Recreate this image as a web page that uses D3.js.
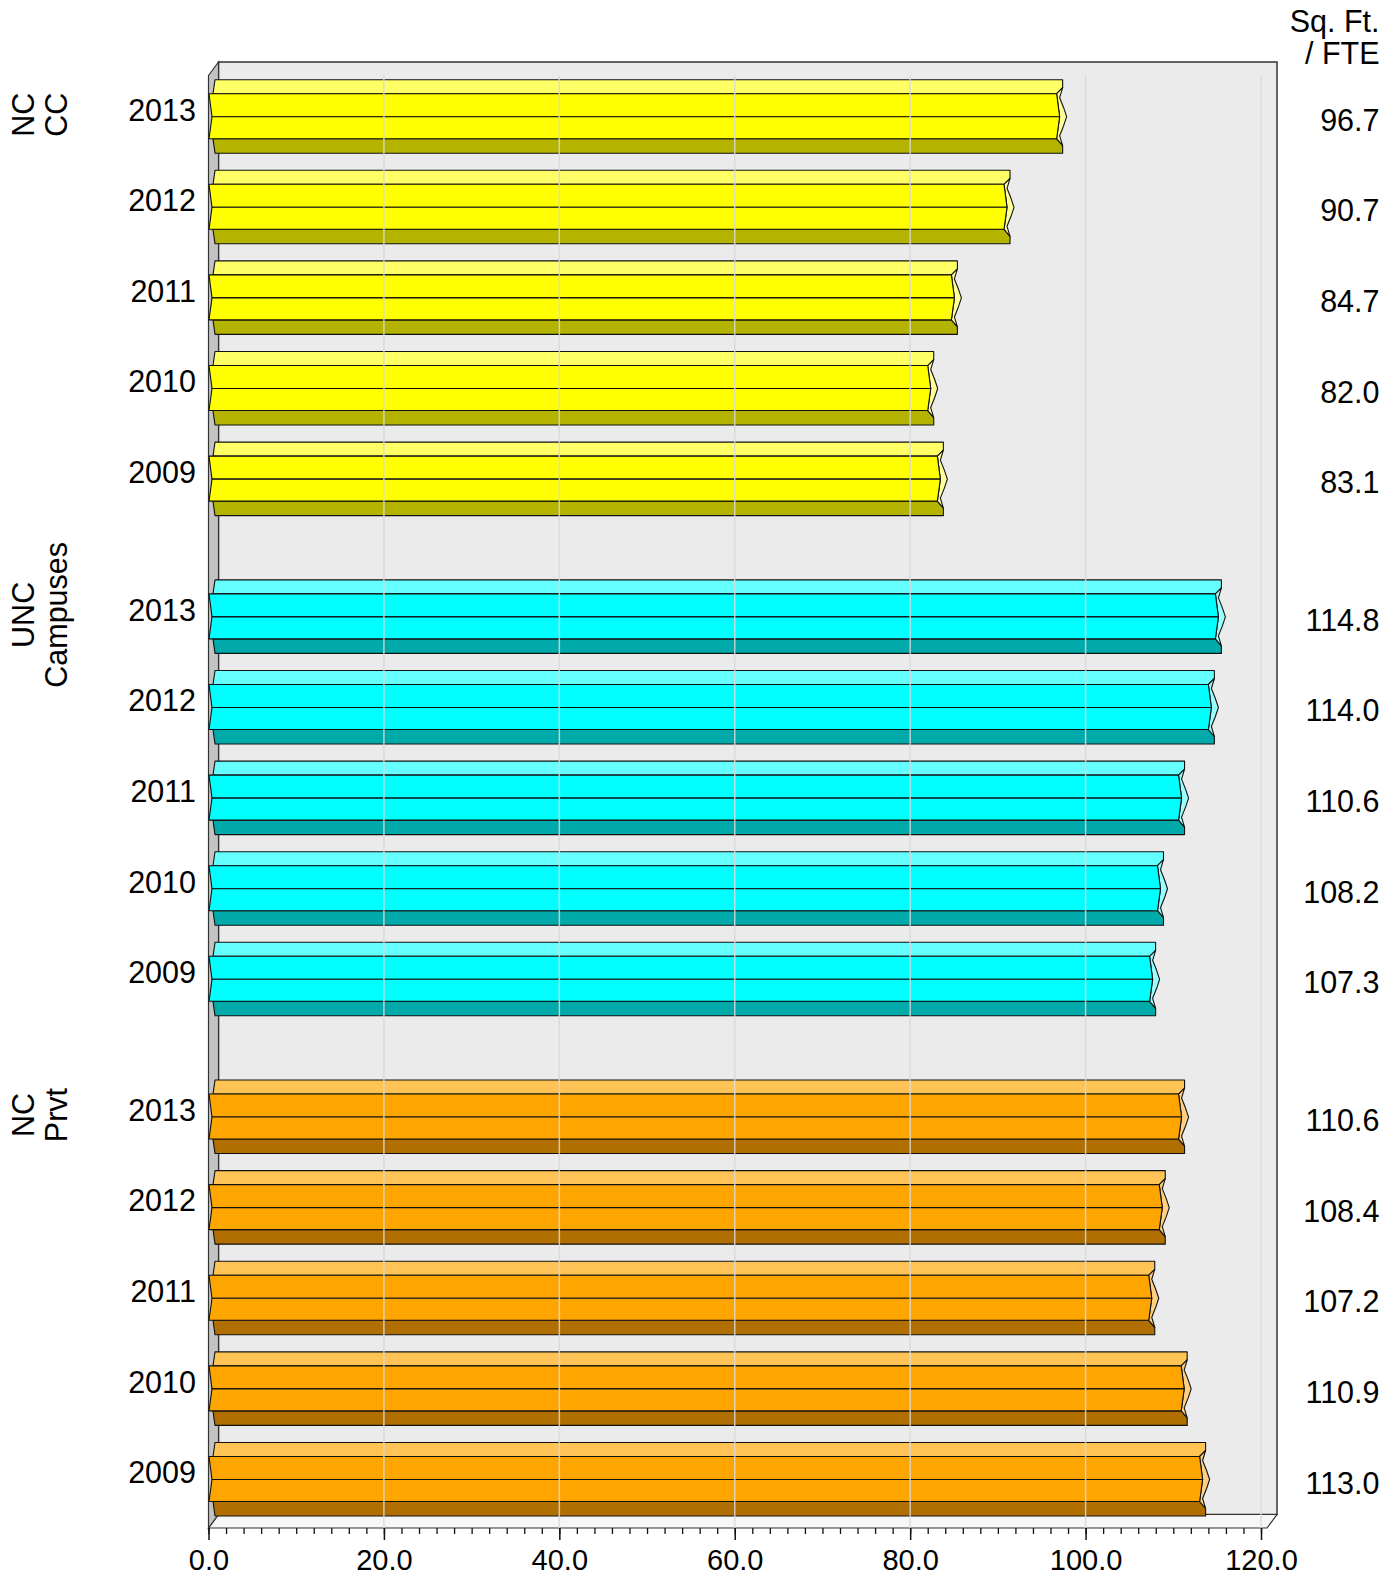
<html>
<meta charset="utf-8" />
<head>
<title>Sq. Ft. / FTE</title>
<style>
body { margin: 0; background: #fff; }
svg text {
  font-family: "Liberation Sans", Arial, sans-serif;
  font-size: 30.5px;
  fill: black;
}
</style>
<script src="https://d3js.org/d3.v7.min.js" charset="utf-8"></script>
</head>
<body>
<svg class="chart"></svg>

<script>
// data
var groupNames = ["NC CC", "UNC Campuses", "NC Prvt"];
var groupLabelLines = [["NC", "CC"], ["UNC", "Campuses"], ["NC", "Prvt"]];
var years = ["2009", "2010", "2011", "2012", "2013"];
var ncccValues = [83.1, 82.0, 84.7, 90.7, 96.7];
var uncValues = [107.3, 108.2, 110.6, 114.0, 114.8];
var prvtValues = [113.0, 110.9, 107.2, 108.4, 110.6];
var xTicks = [0, 20, 40, 60, 80, 100, 120];
var headerLines = ["Sq. Ft.", "/ FTE"];

var allValues = [ncccValues, uncValues, prvtValues];

// colours: top facet, front, bottom facet, end cap
var palette = [
  { top: "#ffff66", front: "#ffff00", bottom: "#b3b300", cap: "#ffff99" },
  { top: "#66ffff", front: "#00ffff", bottom: "#00aaaa", cap: "#99ffff" },
  { top: "#ffc455", front: "#ffa500", bottom: "#b06f00", cap: "#ffd080" }
];

var chartWidth = 1398, chartHeight = 1578;
var dx = 10, dy = -13.5;          // depth offset of the 3d box
var frontTop = 75.5, frontBottom = 1528;
var groupStep = 5.52;             // rows per group incl. the gap

var svg = d3.select(".chart")
  .attr("width", chartWidth)
  .attr("height", chartHeight);

var x = d3.scaleLinear().domain([0, 120]).range([208.5, 1261]);
var y = d3.scaleLinear().domain([0, 2 * groupStep + 4]).range([116.7, 1479.5]);

// flatten rows, newest year on top of each group
var rows = [];
groupNames.forEach(function(g, gi) {
  for (var r = 0; r < years.length; r++) {
    var yi = years.length - 1 - r;
    rows.push({ group: gi, year: years[yi], value: allValues[gi][yi], slot: gi * groupStep + r });
  }
});

var x0 = x(0), xEnd = x(120) + 6;

/* box: back wall, floor, left wall */
svg.append("rect")
  .attr("x", x0 + dx).attr("y", frontTop + dy)
  .attr("width", xEnd + dx - (x0 + dx)).attr("height", frontBottom - frontTop)
  .attr("fill", "#ebebeb").attr("stroke", "#333").attr("stroke-width", 1.5);

svg.append("polygon")
  .attr("points", [[x0, frontBottom], [xEnd, frontBottom], [xEnd + dx, frontBottom + dy], [x0 + dx, frontBottom + dy]].join(" "))
  .attr("fill", "#f6f6f6").attr("stroke", "#333").attr("stroke-width", 1.2);

svg.append("polygon")
  .attr("points", [[x0, frontTop], [x0 + dx, frontTop + dy], [x0 + dx, frontBottom + dy], [x0, frontBottom]].join(" "))
  .attr("fill", "#c3c3c3").attr("stroke", "#333").attr("stroke-width", 1.2);

/* bars */
function pts(a) { return a.map(function(p) { return p[0] + "," + p[1]; }).join(" "); }

var bars = svg.append("g").selectAll("g")
  .data(rows)
  .enter().append("g")
  .attr("stroke", "#111")
  .attr("stroke-width", 1.1)
  .attr("stroke-linejoin", "round");

bars.each(function(d) {
  var g = d3.select(this);
  var c = palette[d.group];
  var cy = y(d.slot);
  var xv = x(d.value);
  var t = cy - 37, u = cy - 23, l = cy + 22, b = cy + 36.5;

  g.append("polygon").attr("fill", c.top)
    .attr("points", pts([[x0 + 6.5, t], [xv + 6, t], [xv + 6, cy - 29], [xv, u], [x0 + 4.5, u]]));
  g.append("polygon").attr("fill", c.bottom)
    .attr("points", pts([[x0 + 4.5, l], [xv, l], [xv + 6, cy + 29], [xv + 6, b], [x0 + 6.5, b]]));
  g.append("polygon").attr("fill", c.cap)
    .attr("points", pts([[xv, u], [xv + 6, cy - 29], [xv + 3, cy - 19], [xv + 7, cy - 9], [xv + 10, cy],
                         [xv + 7, cy + 9], [xv + 3, cy + 19], [xv + 6, cy + 29], [xv, l], [xv + 3, cy]]));
  g.append("polygon").attr("fill", c.front)
    .attr("points", pts([[x0 + 0.5, u], [xv, u], [xv + 3, cy], [x0 + 3.5, cy]]));
  g.append("polygon").attr("fill", c.front)
    .attr("points", pts([[x0 + 3.5, cy], [xv + 3, cy], [xv, l], [x0 + 0.5, l]]));
});

/* grid lines on the front plane, over the bars */
svg.append("g").selectAll("line")
  .data(xTicks.slice(1))
  .enter().append("line")
  .attr("x1", function(d) { return x(d); })
  .attr("x2", function(d) { return x(d); })
  .attr("y1", frontTop)
  .attr("y2", frontBottom)
  .attr("stroke", "#d8d8d8")
  .attr("stroke-opacity", 0.85)
  .attr("stroke-width", 1.5);

/* x axis */
var minor = svg.append("g")
  .attr("transform", "translate(0," + frontBottom + ")")
  .call(d3.axisBottom(x).tickValues(d3.range(0, 121, 2)).tickSize(6).tickFormat(""));
minor.select(".domain").remove();
minor.selectAll("line").attr("stroke", "#111").attr("stroke-width", 1.3);

var major = svg.append("g")
  .attr("transform", "translate(0," + frontBottom + ")")
  .call(d3.axisBottom(x).tickValues(xTicks).tickSize(12).tickPadding(9).tickFormat(d3.format(".1f")));
major.select(".domain").remove();
major.selectAll("line").attr("stroke", "#111").attr("stroke-width", 1.5);
major.selectAll("text").attr("font-size", 29).style("font-size", "29px").attr("fill", "black");

/* year labels and values */
svg.append("g").selectAll("text")
  .data(rows)
  .enter().append("text")
  .attr("x", 196)
  .attr("y", function(d) { return y(d.slot) + 3.8; })
  .attr("text-anchor", "end")
  .text(function(d) { return d.year; });

svg.append("g").selectAll("text")
  .data(rows)
  .enter().append("text")
  .attr("x", 1379.5)
  .attr("y", function(d) { return y(d.slot) + 14; })
  .attr("text-anchor", "end")
  .text(function(d) { return d.value.toFixed(1); });

/* header */
svg.append("g").selectAll("text")
  .data(headerLines)
  .enter().append("text")
  .attr("x", 1379.5)
  .attr("y", function(d, i) { return 32 + i * 31.7; })
  .attr("text-anchor", "end")
  .text(function(d) { return d; });

/* group labels, rotated */
var gl = svg.append("g").selectAll("text")
  .data(groupLabelLines)
  .enter().append("text")
  .attr("transform", function(d, i) { return "translate(34," + (y(i * groupStep) - 2) + ") rotate(-90)"; })
  .attr("text-anchor", "middle");
gl.selectAll("tspan")
  .data(function(d) { return d; })
  .enter().append("tspan")
  .attr("x", 0)
  .attr("dy", function(d, i) { return i === 0 ? 0 : 33; })
  .text(function(d) { return d; });
</script>
</body>
</html>
